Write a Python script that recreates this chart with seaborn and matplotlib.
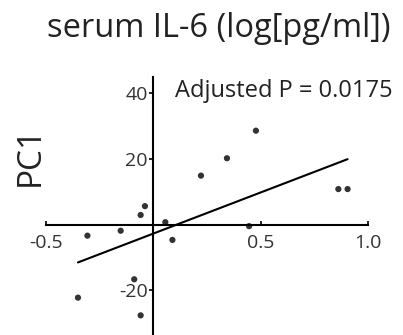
import matplotlib
matplotlib.use("Agg")
import matplotlib.pyplot as plt
import seaborn as sns
import pandas as pd

# data
il6 = [-0.351, -0.307, -0.152, -0.089, -0.059, -0.059, -0.039, 0.056, 0.089,
       0.222, 0.343, 0.446, 0.478, 0.862, 0.905]
pc1 = [-22.3, -3.4, -1.9, -16.7, -27.7, 2.9, 5.6, 0.7, -4.7,
       14.9, 20.2, -0.5, 28.6, 10.8, 10.8]
x_ticks = [-0.5, 0.5, 1.0]
x_tick_labels = ["-0.5", "0.5", "1.0"]
y_ticks = [-20, 20, 40]
y_tick_labels = ["-20", "20", "40"]
title = "serum IL-6 (log[pg/ml])"
ylabel = "PC1"
annotation = "Adjusted P = 0.0175"

sns.set_theme(style="white")
plt.rcParams["font.family"] = ["Open Sans", "DejaVu Sans"]
plt.rcParams["axes.unicode_minus"] = False

df = pd.DataFrame({"il6": il6, "pc1": pc1})

fig = plt.figure(figsize=(4.03, 3.35), dpi=100)
ax = fig.add_axes([0.1141, 0.0018, 0.799, 0.7687])

sns.regplot(data=df, x="il6", y="pc1", ax=ax, ci=None, color="black",
            scatter_kws={"s": 20, "edgecolor": "none", "zorder": 4},
            line_kws={"lw": 1.5, "zorder": 3})

ax.set_xlim(-0.5, 1.0)
ax.set_ylim(-33.5, 45)
ax.spines["left"].set_position(("data", 0))
ax.spines["bottom"].set_position(("data", 0))
ax.spines["top"].set_visible(False)
ax.spines["right"].set_visible(False)
for s in ("left", "bottom"):
    ax.spines[s].set_color("black")
    ax.spines[s].set_linewidth(1.5)

ax.set_xticks(x_ticks)
ax.set_xticklabels(x_tick_labels)
ax.set_yticks(y_ticks)
ax.set_yticklabels(y_tick_labels)
ax.tick_params(axis="x", direction="in", length=3, width=1.2, pad=7,
               labelsize=14, colors="black", bottom=True)
ax.tick_params(axis="y", direction="out", length=3, width=1.2, pad=1,
               labelsize=14, colors="black", left=True)
for lab in ax.get_xticklabels() + ax.get_yticklabels():
    lab.set_color("#333333")
ax.set_xlabel("")
ax.set_ylabel("")

fig.text(0.5434, 0.8896, title, ha="center", va="baseline", fontsize=23.5,
         color="#222222")
fig.text(0.0744, 0.534, ylabel, ha="center", va="center", rotation=90,
         fontsize=24, color="#222222")
fig.text(0.434, 0.7104, annotation, ha="left", va="baseline", fontsize=17,
         color="#222222")

fig.savefig("out.png", dpi=100)
